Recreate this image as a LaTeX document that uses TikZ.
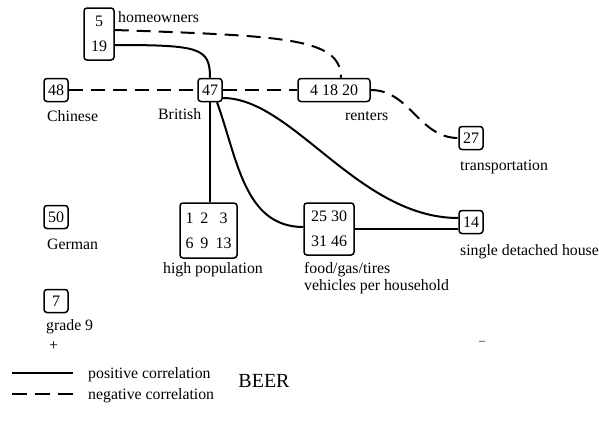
\documentclass[tikz,border=0pt]{standalone}
\usepackage{fontspec}
\setmainfont{Liberation Serif}
\begin{document}
\begin{tikzpicture}[x=1pt,y=-1pt,
 box/.style={draw, line width=1.5pt, rounded corners=3pt, inner sep=0pt, minimum width=24pt, minimum height=23pt, font=\fontsize{16}{25}\selectfont, align=center},
 lbl/.style={inner sep=0pt, font=\fontsize{15.8}{17}\selectfont, anchor=west, align=left},
 poscorr/.style={line width=2pt},
 negcorr/.style={line width=2pt, dash pattern=on 14pt off 8pt}]
\useasboundingbox (0,0) rectangle (599,434);
% boxes
\node[box, minimum width=30pt, minimum height=52pt] (h) at (99,34) {5\\19};
\node[box] (n48) at (56,90) {48};
\node[box] (n47) at (210,90) {47};
\node[box, minimum width=72pt] (ren) at (334,90) {4 18 20};
\node[box] (n27) at (471,138) {27};
\node[box] (n50) at (56,217) {50};
\node[box, minimum width=57pt, minimum height=55pt] (hp) at (208.5,230.5) {\begin{tabular}{@{}c@{\hspace{7pt}}c@{\hspace{7pt}}c@{}}1&2&3\\6&9&13\end{tabular}};
\node[box, minimum width=50pt, minimum height=52pt] (fg) at (329,229) {25 30\\31 46};
\node[box] (n14) at (471,222) {14};
\node[box] (n7) at (56,301) {7};
% labels
\node[lbl] (lhome) at (118,17) {homeowners};
\node[lbl] (lchi) at (47,116) {Chinese};
\node[lbl] (lbri) at (158,114) {British};
\node[lbl] (lren) at (345,116) {renters};
\node[lbl] (ltra) at (460,167) {transportation};
\node[lbl] (lger) at (47,244) {German};
\node[lbl] (lhp) at (163,270) {high population};
\node[lbl] (lfg) at (304,278.5) {food/gas/tires\\vehicles per household};
\node[lbl] (lsdh) at (460,252) {single detached house};
\node[lbl] (lg9) at (46,327) {grade 9};
\node[lbl] (plus) at (49,346) {+};
\node[inner sep=0pt, font=\fontsize{20}{24}\selectfont] (beer) at (264,381) {BEER};
\node[inner sep=0pt, font=\fontsize{12}{14}\selectfont] (minus) at (482,343) {–};
% legend
\coordinate (pa) at (12,373);
\coordinate (pb) at (73,373);
\coordinate (na) at (12,394);
\coordinate (nb) at (73,394);
\draw[poscorr] (pa) -- (pb);
\draw[negcorr, dash pattern=on 15pt off 8pt] (na) -- (nb);
\node[lbl] (lpos) at (88,375) {positive correlation};
\node[lbl] (lneg) at (88,396) {negative correlation};
% connectors
\draw[poscorr] ([yshift=-11pt]h.east) .. controls +(85,0) and +(0,-30) .. (n47.north);
\draw[negcorr] ([yshift=4pt]h.east) .. controls +(170,6) and +(0,-40) .. ([xshift=7pt]ren.north);
\draw[negcorr] (n48.east) -- (n47.west);
\draw[negcorr] (n47.east) -- (ren.west);
\draw[negcorr] (ren.east) to[out=0,in=180] (n27.west);
\draw[poscorr] (n47.south) -- (n47.south |- hp.north);
\draw[poscorr] ([xshift=7pt]n47.south) to[out=-70,in=180] ([yshift=2pt]fg.west);
\draw[poscorr] ([yshift=-8pt]n47.east) .. controls +(70,0) and +(-100,0) .. ([yshift=4pt]n14.west);
\draw[poscorr] (fg.east) -- (fg.east -| n14.west);
\end{tikzpicture}
\end{document}
